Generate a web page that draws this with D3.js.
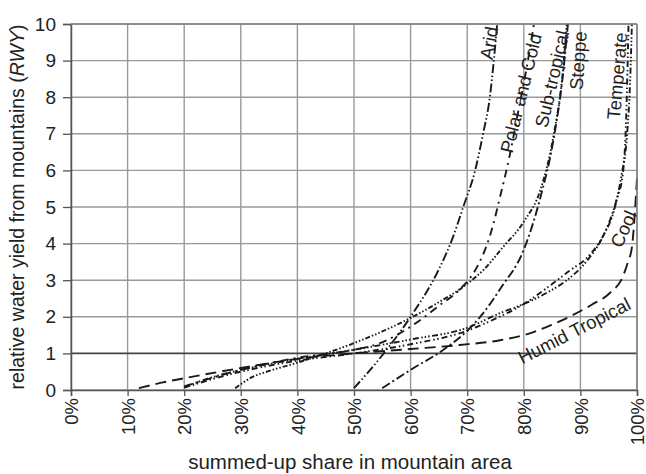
<!DOCTYPE html>
<html>
<head>
<meta charset="utf-8">
<script src="https://cdn.jsdelivr.net/npm/d3@7"></script>
<style>
  body { margin: 0; background: #fff; }
  text { font-family: "Liberation Sans", Arial, sans-serif; fill: #222; }
</style>
</head>
<body>
<div id="chart"></div>
<script>
// tick values
var shareTicks = [0, 10, 20, 30, 40, 50, 60, 70, 80, 90, 100];
var rwyTicks = [0, 1, 2, 3, 4, 5, 6, 7, 8, 9, 10];

// [share %, RWY]
var arid = [[50,0.05],[55,0.95],[60,2.0],[65,3.3],[67.3,4.1],[69.3,5.0],[71.4,6.0],[72.8,7.0],[74,8.0],[74.7,9.0],[75.3,10]];
var polarCold = [[20,0.1],[30,0.55],[40,0.88],[50,1.1],[54.6,1.28],[60,1.73],[65,2.3],[68.7,2.75],[71.7,3.35],[74,4.2],[76,5.4],[77.5,6.4],[79,7.6],[80.5,8.8],[81.8,10]];
var subTropical = [[29,0.05],[32,0.35],[35,0.52],[39,0.7],[45,1.0],[50,1.28],[55,1.6],[60,1.97],[65,2.4],[70,2.9],[73,3.3],[76.3,3.9],[80,4.6],[83,5.5],[85.2,6.9],[86.9,8.7],[87.6,10]];
var steppe = [[55,0.05],[60,0.55],[65.8,1.1],[70,1.62],[72.3,2.0],[76,2.8],[79.9,3.8],[83,5.3],[85.2,6.8],[86.9,8.6],[87.8,10]];
var temperate = [[20,0.08],[25,0.35],[30,0.55],[40,0.85],[50,1.1],[60,1.38],[70,1.7],[75.8,2.1],[80,2.35],[84,2.65],[87.6,3.0],[91,3.5],[94,4.2],[96.1,5.0],[97.3,5.9],[98.2,6.9],[98.8,8.5],[99.1,10]];
var cool = [[20,0.06],[25,0.3],[30,0.5],[40,0.8],[50,1.0],[60,1.25],[70,1.62],[75,1.95],[80,2.35],[84.6,2.85],[88,3.25],[91.7,3.7],[94.6,4.4],[96.4,5.2],[97.5,5.9],[98.1,7.5],[98.5,10]];
var humidTropical = [[12,0.05],[16,0.2],[20,0.32],[30,0.6],[40,0.85],[50,1.0],[60,1.12],[68.7,1.23],[75.8,1.36],[80,1.5],[84,1.72],[88.7,2.05],[92,2.33],[95.2,2.65],[97.5,3.1],[98.4,3.5],[99.1,3.9],[99.6,4.8],[100,5.8]];

var width = 646, height = 474;
var pLeft = 71, pRight = 637, pTop = 24, pBottom = 390;

var x = d3.scaleLinear().domain([0, 100]).range([pLeft, pRight]);
var y = d3.scaleLinear().domain([0, 10]).range([pBottom, pTop]);

var svg = d3.select('#chart').append('svg')
  .attr('width', width)
  .attr('height', height);

// grid
var grid = svg.append('g');
grid.selectAll('line.v').data(shareTicks).enter().append('line')
  .attr('x1', function(d){ return x(d); }).attr('x2', function(d){ return x(d); })
  .attr('y1', pTop).attr('y2', pBottom)
  .attr('stroke', '#999').attr('stroke-width', 1.4);
grid.selectAll('line.h').data(rwyTicks).enter().append('line')
  .attr('x1', pLeft).attr('x2', pRight)
  .attr('y1', function(d){ return y(d); }).attr('y2', function(d){ return y(d); })
  .attr('stroke', function(d){ return d === 1 ? '#444' : '#999'; })
  .attr('stroke-width', function(d){ return d === 1 ? 1.6 : 1.4; });

// axes
var yAxis = d3.axisLeft(y).tickValues(rwyTicks).tickSize(8).tickPadding(7);
var gy = svg.append('g').attr('transform', 'translate(' + pLeft + ',0)').call(yAxis);
gy.selectAll('text').style('font-size', '19px');

var xAxis = d3.axisBottom(x).tickValues(shareTicks).tickSize(6).tickFormat(function(d){ return d + '%'; });
var gx = svg.append('g').attr('transform', 'translate(0,' + pBottom + ')').call(xAxis);
gx.selectAll('text')
  .style('font-size', '18.5px')
  .attr('transform', 'rotate(-90)')
  .attr('text-anchor', 'end')
  .attr('x', -8).attr('y', 0).attr('dy', '0.36em');

svg.selectAll('.domain').attr('stroke', '#555').attr('stroke-width', 1.5);
svg.selectAll('.tick line').attr('stroke', '#555').attr('stroke-width', 1.3);

// series lines
var line = d3.line()
  .x(function(d){ return x(d[0]); })
  .y(function(d){ return y(d[1]); })
  .curve(d3.curveMonotoneX);

var series = [
  { data: humidTropical, dash: '11,6' },
  { data: cool, dash: '6,3,1.5,2.5,1.5,3' },
  { data: temperate, dash: '6,2.5,1.5,2,1.5,2,1.5,2.5' },
  { data: subTropical, dash: '5,2,1.5,2,1.5,2,1.5,2' },
  { data: steppe, dash: '9,3,2,3' },
  { data: polarCold, dash: '8,5,2,5' },
  { data: arid, dash: '9,2.5,1.5,2.5,1.5,2.5' }
];

svg.append('g').selectAll('path').data(series).enter().append('path')
  .attr('d', function(d){ return line(d.data); })
  .attr('fill', 'none')
  .attr('stroke', '#1a1a1a')
  .attr('stroke-width', 1.9)
  .attr('stroke-dasharray', function(d){ return d.dash; });

// frame top/right
svg.append('line').attr('x1', pLeft).attr('x2', pRight).attr('y1', pTop).attr('y2', pTop)
  .attr('stroke', '#808080').attr('stroke-width', 1.5);
svg.append('line').attr('x1', pRight).attr('x2', pRight).attr('y1', pTop).attr('y2', pBottom)
  .attr('stroke', '#808080').attr('stroke-width', 1.5);

// curve labels
var labels = [
  { text: 'Arid', at: [73.85, 9.48], rot: -80 },
  { text: 'Polar and Cold', at: [79.5, 8.11], rot: -76 },
  { text: 'Sub-tropical', at: [85.0, 8.5], rot: -77 },
  { text: 'Steppe', at: [89.6, 9.0], rot: -86 },
  { text: 'Temperate', at: [96.5, 8.58], rot: -85 },
  { text: 'Cool', at: [97.6, 4.4], rot: -66 },
  { text: 'Humid Tropical', at: [88.9, 1.62], rot: -27 }
];
svg.append('g').selectAll('text').data(labels).enter().append('text')
  .attr('transform', function(d){ return 'translate(' + x(d.at[0]) + ',' + y(d.at[1]) + ') rotate(' + d.rot + ')'; })
  .attr('text-anchor', 'middle')
  .attr('dy', '0.35em')
  .style('font-size', '18.5px')
  .text(function(d){ return d.text; });

// axis titles
svg.append('text')
  .attr('x', (pLeft + pRight) / 2 - 4).attr('y', 469)
  .attr('text-anchor', 'middle')
  .style('font-size', '20.5px')
  .text('summed-up share in mountain area');

var yt = svg.append('text')
  .attr('transform', 'translate(24,' + ((pTop + pBottom) / 2) + ') rotate(-90)')
  .attr('text-anchor', 'middle')
  .style('font-size', '19.5px');
yt.append('tspan').text('relative water yield from mountains (');
yt.append('tspan').style('font-style', 'italic').text('RWY');
yt.append('tspan').text(')');
</script>
</body>
</html>
